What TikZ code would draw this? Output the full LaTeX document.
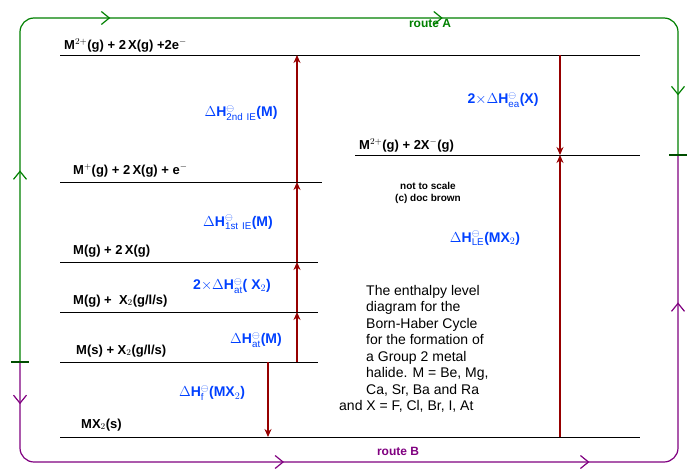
\documentclass[tikz,border=0pt]{standalone}
\usepackage{fontspec}
\setmainfont{Liberation Sans}
\usetikzlibrary{decorations.markings,arrows.meta}
\definecolor{routeA}{RGB}{0,128,0}
\definecolor{routeB}{RGB}{128,0,128}
\definecolor{dh}{RGB}{150,0,0}
\definecolor{lbl}{RGB}{0,64,255}
\newcommand{\std}{^{\ominus}}
\begin{document}
\begin{tikzpicture}[x=1pt,y=-1pt,
	level/.style={line width=0.8pt},
	state/.style={anchor=south west,inner sep=1pt,font=\bfseries\fontsize{13}{15}\selectfont},
	change/.style={dh,line width=1.6pt,-{Stealth[length=8pt,width=7pt]}},
	dhlabel/.style={lbl,font=\bfseries\fontsize{14}{16}\selectfont,inner sep=1pt},
	route/.style={line width=1.2pt,rounded corners=14pt},
	mark/.style={postaction={decorate,decoration={markings,mark=at position #1 with {\arrow{Straight Barb[length=8pt,width=13pt]}}}}}]
	\useasboundingbox (0,0) rectangle (700,473);
	% levels
	\draw[level] (60,55) coordinate (top l) -- (640,55) coordinate (top r); % M2+ + 2X + 2e
	\draw[level] (355,155) coordinate (ion l) -- (640,155) coordinate (ion r); % ions
	\draw[level] (60,182) -- (322,182) coordinate (mp r); % M+
	\draw[level] (60,262) -- (318,262) coordinate (gx r); % M(g) + 2X
	\draw[level] (60,312) -- (318,312) coordinate (gx2 r); % M(g) + X2
	\draw[level] (60,362) coordinate (el l) -- (318,362) coordinate (el r); % elements
	\draw[level] (60,437) coordinate (mx l) -- (640,437) coordinate (mx r); % MX2
	\node[state] (sTop) at (63,53) {M$^{2+}$(g) + 2\,X(g) +2e$^-$};
	\node[state] (sIon) at (358,153) {M$^{2+}$(g) + 2X$^-$(g)};
	\node[state] (sMp) at (72,178) {M$^+$(g) + 2\,X(g) + e$^-$};
	\node[state] (sGx) at (72,258) {M(g) + 2\,X(g)};
	\node[state] (sGx2) at (72,308) {M(g) + \ X$_2$(g/l/s)};
	\node[state] (sEl) at (75,358) {M(s) + X$_2$(g/l/s)};
	\node[state] (sMx) at (80,432) {MX$_2$(s)};
	% changes
	\coordinate (a0) at (297,362); \coordinate (a1) at (297,312);
	\coordinate (a2) at (297,262); \coordinate (a3) at (297,182);
	\coordinate (a4) at (297,55);
	\draw[change] (a0) -- (a1);
	\draw[change] (a1) -- (a2);
	\draw[change] (a2) -- (a3);
	\draw[change] (a3) -- (a4);
	\coordinate (f0) at (268,362); \coordinate (f1) at (268,437);
	\draw[change] (f0) -- (f1);
	\coordinate (e0) at (560,55); \coordinate (e1) at (560,155); \coordinate (e2) at (560,437);
	\draw[change] (e0) -- (e1);
	\draw[change] (e2) -- (e1);
	\node[dhlabel] (hAtM) at (256,340) {$\Delta$H$\std_{\mathrm{at}}$(M)};
	\node[dhlabel] (hAtX) at (232,286) {2$\times\Delta$H$\std_{\mathrm{at}}$( X$_2$)};
	\node[dhlabel] (hIe1) at (238,222) {$\Delta$H$\std_{\mathrm{1st\ IE}}$(M)};
	\node[dhlabel] (hIe2) at (241,113) {$\Delta$H$\std_{\mathrm{2nd\ IE}}$(M)};
	\node[dhlabel] (hEa) at (503,100) {2$\times\Delta$H$\std_{\mathrm{ea}}$(X)};
	\node[dhlabel] (hLe) at (485,238) {$\Delta$H$\std_{\mathrm{LE}}$(MX$_2$)};
	\node[dhlabel] (hF) at (212,393) {$\Delta$H$\std_{\mathrm{f}}$(MX$_2$)};
	% notes
	\node[font=\bfseries\fontsize{10}{12}\selectfont,align=center] (note) at (428,193) {not to scale\\(c) doc brown};
	\node[font=\fontsize{14}{16.5}\selectfont,align=left,anchor=north west,inner sep=0pt] (para) at (366,285)
		{The enthalpy level\\diagram for the\\Born-Haber Cycle\\for the formation of\\a Group 2 metal\\halide. M = Be, Mg,\\Ca, Sr, Ba and Ra\\\hspace*{-27pt}and X = F, Cl, Br, I, At};
	% routes
	\coordinate (rl) at (20,362); \coordinate (rr) at (678,155);
	\draw[route,routeA,mark=0.17,mark=0.38,mark=0.675,mark=0.947] (rl) -- (20,18) -- (678,18) -- (rr);
	\draw[route,routeB,mark=0.04,mark=0.34,mark=0.63,mark=0.86] (rl) -- (20,462) -- (678,462) -- (rr);
	\draw[routeA!60!black,line width=1.5pt] (11,362) -- (29,362);
	\draw[routeA!60!black,line width=1.5pt] (669,155) -- (687,155);
	\node[routeA,font=\bfseries\fontsize{12}{14}\selectfont] (rA) at (430,23) {route A};
	\node[routeB,font=\bfseries\fontsize{12}{14}\selectfont] (rB) at (398,451) {route B};
\end{tikzpicture}
\end{document}
